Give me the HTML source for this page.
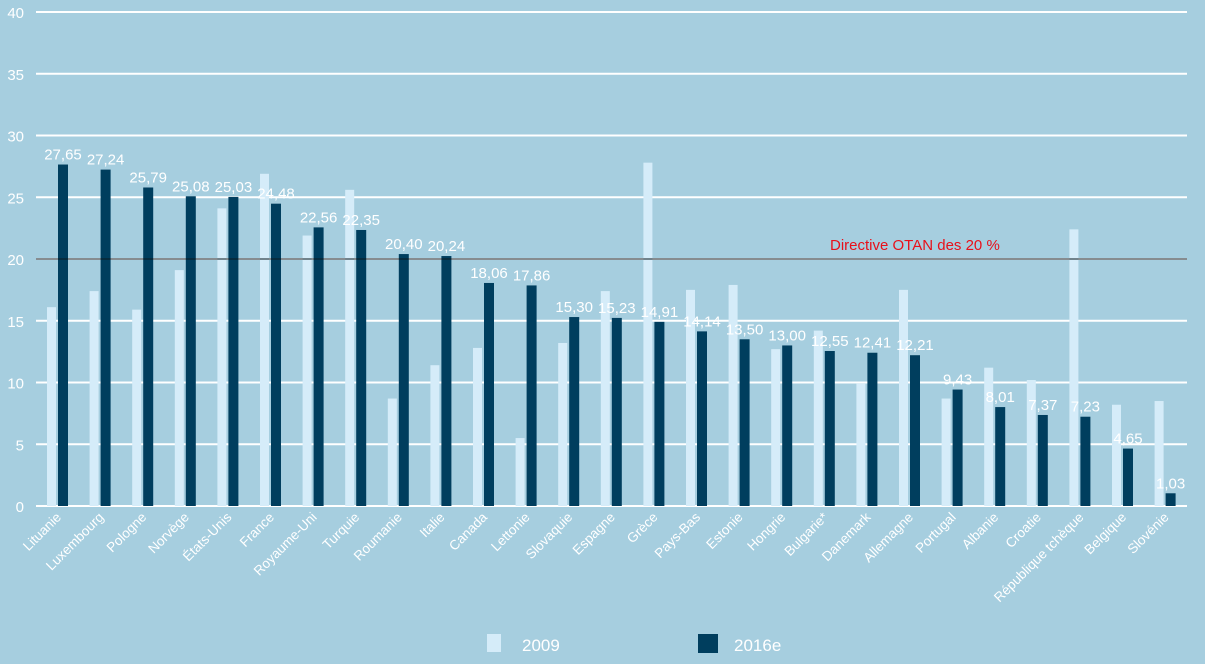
<!DOCTYPE html>
<html><head><meta charset="utf-8"><style>
html,body{margin:0;padding:0;background:#a6cedf;}
svg{display:block;font-family:"Liberation Sans",sans-serif;}
</style></head><body>
<svg id="chart" width="1205" height="664" xmlns="http://www.w3.org/2000/svg">
<rect width="1205" height="664" fill="#a6cedf"/>
<g id="grid"></g><g id="bars"></g><g id="labels"></g>
<line id="guide" x1="36" x2="1187" stroke="#0d1a20" stroke-width="1" shape-rendering="crispEdges"/>
<text id="guideText" x="830" fill="#e8101a" font-size="15">Directive OTAN des 20 %</text>
<g>
<rect x="487" y="634" width="14" height="18" fill="#d5ecf9"/>
<text x="522" y="651" fill="#fff" font-size="17">2009</text>
<rect x="698" y="634" width="20" height="19" fill="#003e5e"/>
<text x="734" y="651" fill="#fff" font-size="17">2016e</text>
</g>
</svg>
<script>
const categories=["Lituanie","Luxembourg","Pologne","Norvège","États-Unis","France","Royaume-Uni","Turquie","Roumanie","Italie","Canada","Lettonie","Slovaquie","Espagne","Grèce","Pays-Bas","Estonie","Hongrie","Bulgarie*","Danemark","Allemagne","Portugal","Albanie","Croatie","République tchèque","Belgique","Slovénie"];
const values2009=[16.1,17.4,15.9,19.1,24.1,26.9,21.9,25.6,8.7,11.4,12.8,5.5,13.2,17.4,27.8,17.5,17.9,12.7,14.2,9.9,17.5,8.7,11.2,10.2,22.4,8.2,8.5];
const values2016=[27.65,27.24,25.79,25.08,25.03,24.48,22.56,22.35,20.40,20.24,18.06,17.86,15.30,15.23,14.91,14.14,13.50,13.00,12.55,12.41,12.21,9.43,8.01,7.37,7.23,4.65,1.03];
const yTicks=[0,5,10,15,20,25,30,35,40];
const guideline=20;
const ns="http://www.w3.org/2000/svg";
const y0=506,yTop=12,yMax=40,xL=36,xR=1187,x0=36.7,bw=42.6;
const y=v=>y0-(v/yMax)*(y0-yTop);
const cx=i=>x0+bw*(i+0.5);
function mk(tag,attrs,parent){const e=document.createElementNS(ns,tag);for(const k in attrs)e.setAttribute(k,attrs[k]);parent.appendChild(e);return e;}
const grid=document.getElementById('grid'),bars=document.getElementById('bars'),labels=document.getElementById('labels');
yTicks.forEach(t=>{
 const l=mk('line',{x1:xL,x2:xR,y1:y(t),y2:y(t),stroke:'#fff','stroke-width':2},grid);
 
 
 const tx=mk('text',{x:24,y:y(t)+6,fill:'#fff','font-size':15,'text-anchor':'end'},grid);
 tx.textContent=t;
 
 
});
categories.forEach((c,i)=>{
 const c0=cx(i);
 const a=mk('rect',{x:c0-11,y:y(values2009[i]),width:9,height:y0-y(values2009[i]),fill:'#d5ecf9'},bars);
 
 
 const b=mk('rect',{x:c0,y:y(values2016[i]),width:10,height:y0-y(values2016[i]),fill:'#003e5e'},bars);
 
 
 const v=mk('text',{x:c0+5,y:y(values2016[i])-5,fill:'#fff','font-size':15,'text-anchor':'middle'},labels);
 v.textContent=values2016[i].toFixed(2).replace('.',',');
 
 
 const xl=mk('text',{transform:`translate(${c0+4},${y0+12}) rotate(-45)`,fill:'#fff','font-size':13.5,'text-anchor':'end'},labels);
 xl.textContent=c;
 
 
});
const g=document.getElementById('guide');g.setAttribute('y1',y(guideline));g.setAttribute('y2',y(guideline));
document.getElementById('guideText').setAttribute('y',y(guideline)-9);
</script>
</body></html>
